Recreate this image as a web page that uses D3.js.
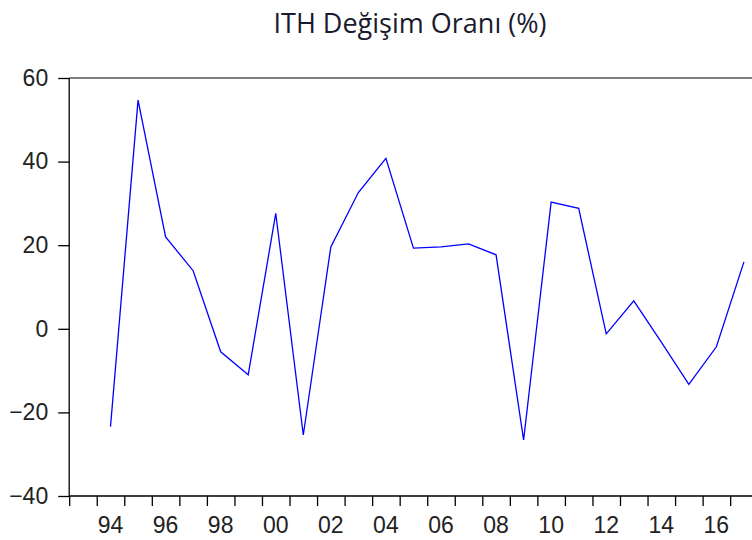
<!DOCTYPE html>
<html>
<head>
<meta charset="utf-8">
<script src="https://cdn.jsdelivr.net/npm/d3@7"></script>
<style>
  body { margin: 0; background: #fff; }
  svg { display: block; }
</style>
</head>
<body>
<svg></svg>
<script>
var title = "ITH Değişim Oranı (%)";
var years = d3.range(1994, 2018);
var values = [-23.4, 54.7, 22.0, 13.9, -5.5, -11.0, 27.6, -25.4, 19.6, 32.6, 40.8, 19.3,
  19.6, 20.3, 17.7, -26.6, 30.3, 28.8, -1.2, 6.7, -3.2, -13.3, -4.3, 16.0];
var yTicks = [-40, -20, 0, 20, 40, 60];
var xTicks = d3.range(1993, 2018);
var xLabelYears = d3.range(1994, 2018, 2);

var width = 752, height = 540;
var svg = d3.select('svg')
  .attr('width', width)
  .attr('height', height);

var x = d3.scaleLinear().domain([1993, 2018]).range([69.2, 757.7]);
var y = d3.scaleLinear().domain([-40, 60]).range([496, 78]);

// frame top
svg.append('line')
  .attr('x1', x(1993)).attr('x2', width)
  .attr('y1', y(60)).attr('y2', y(60))
  .attr('stroke', '#555').attr('stroke-width', 1.6);

// y axis
var yAxis = svg.append('g')
  .attr('transform', 'translate(' + x(1993) + ',0)')
  .call(d3.axisLeft(y).tickValues(yTicks).tickSize(11).tickPadding(10)
    .tickFormat(d3.format('d')));

// x axis: ticks every year boundary, labels at mid-year
var xAxis = svg.append('g')
  .attr('transform', 'translate(0,' + y(-40) + ')')
  .call(d3.axisBottom(x).tickValues(xTicks).tickSize(10).tickFormat(''));

svg.selectAll('g .domain').attr('stroke', '#000').attr('stroke-width', 1.3);
svg.selectAll('g .tick line').attr('stroke', '#000').attr('stroke-width', 1.3);
yAxis.selectAll('.domain').attr('d', 'M0,' + y(-40) + 'V' + y(60));
xAxis.select('.domain').attr('d', 'M' + x(1993) + ',0H' + width);

yAxis.selectAll('text')
  .attr('font-family', 'Liberation Sans, Arial, sans-serif')
  .attr('font-size', 23)
  .attr('fill', '#222');

svg.append('g').selectAll('text')
  .data(xLabelYears)
  .enter()
  .append('text')
  .attr('x', function (d) { return x(d + 0.5); })
  .attr('y', 533)
  .attr('text-anchor', 'middle')
  .attr('font-family', 'Liberation Sans, Arial, sans-serif')
  .attr('font-size', 23)
  .attr('fill', '#222')
  .text(function (d) { return String(d % 100).padStart(2, '0'); });

var line = d3.line()
  .x(function (d, i) { return x(years[i] + 0.5); })
  .y(function (d) { return y(d); });

svg.append('path')
  .datum(values)
  .attr('d', line)
  .attr('fill', 'none')
  .attr('stroke', '#0000ff')
  .attr('stroke-width', 1.3);

svg.append('text')
  .attr('x', 410)
  .attr('y', 33)
  .attr('text-anchor', 'middle')
  .attr('font-family', 'Open Sans, sans-serif')
  .attr('font-size', 27)
  .attr('fill', '#1a1a2e')
  .text(title);
</script>
</body>
</html>
